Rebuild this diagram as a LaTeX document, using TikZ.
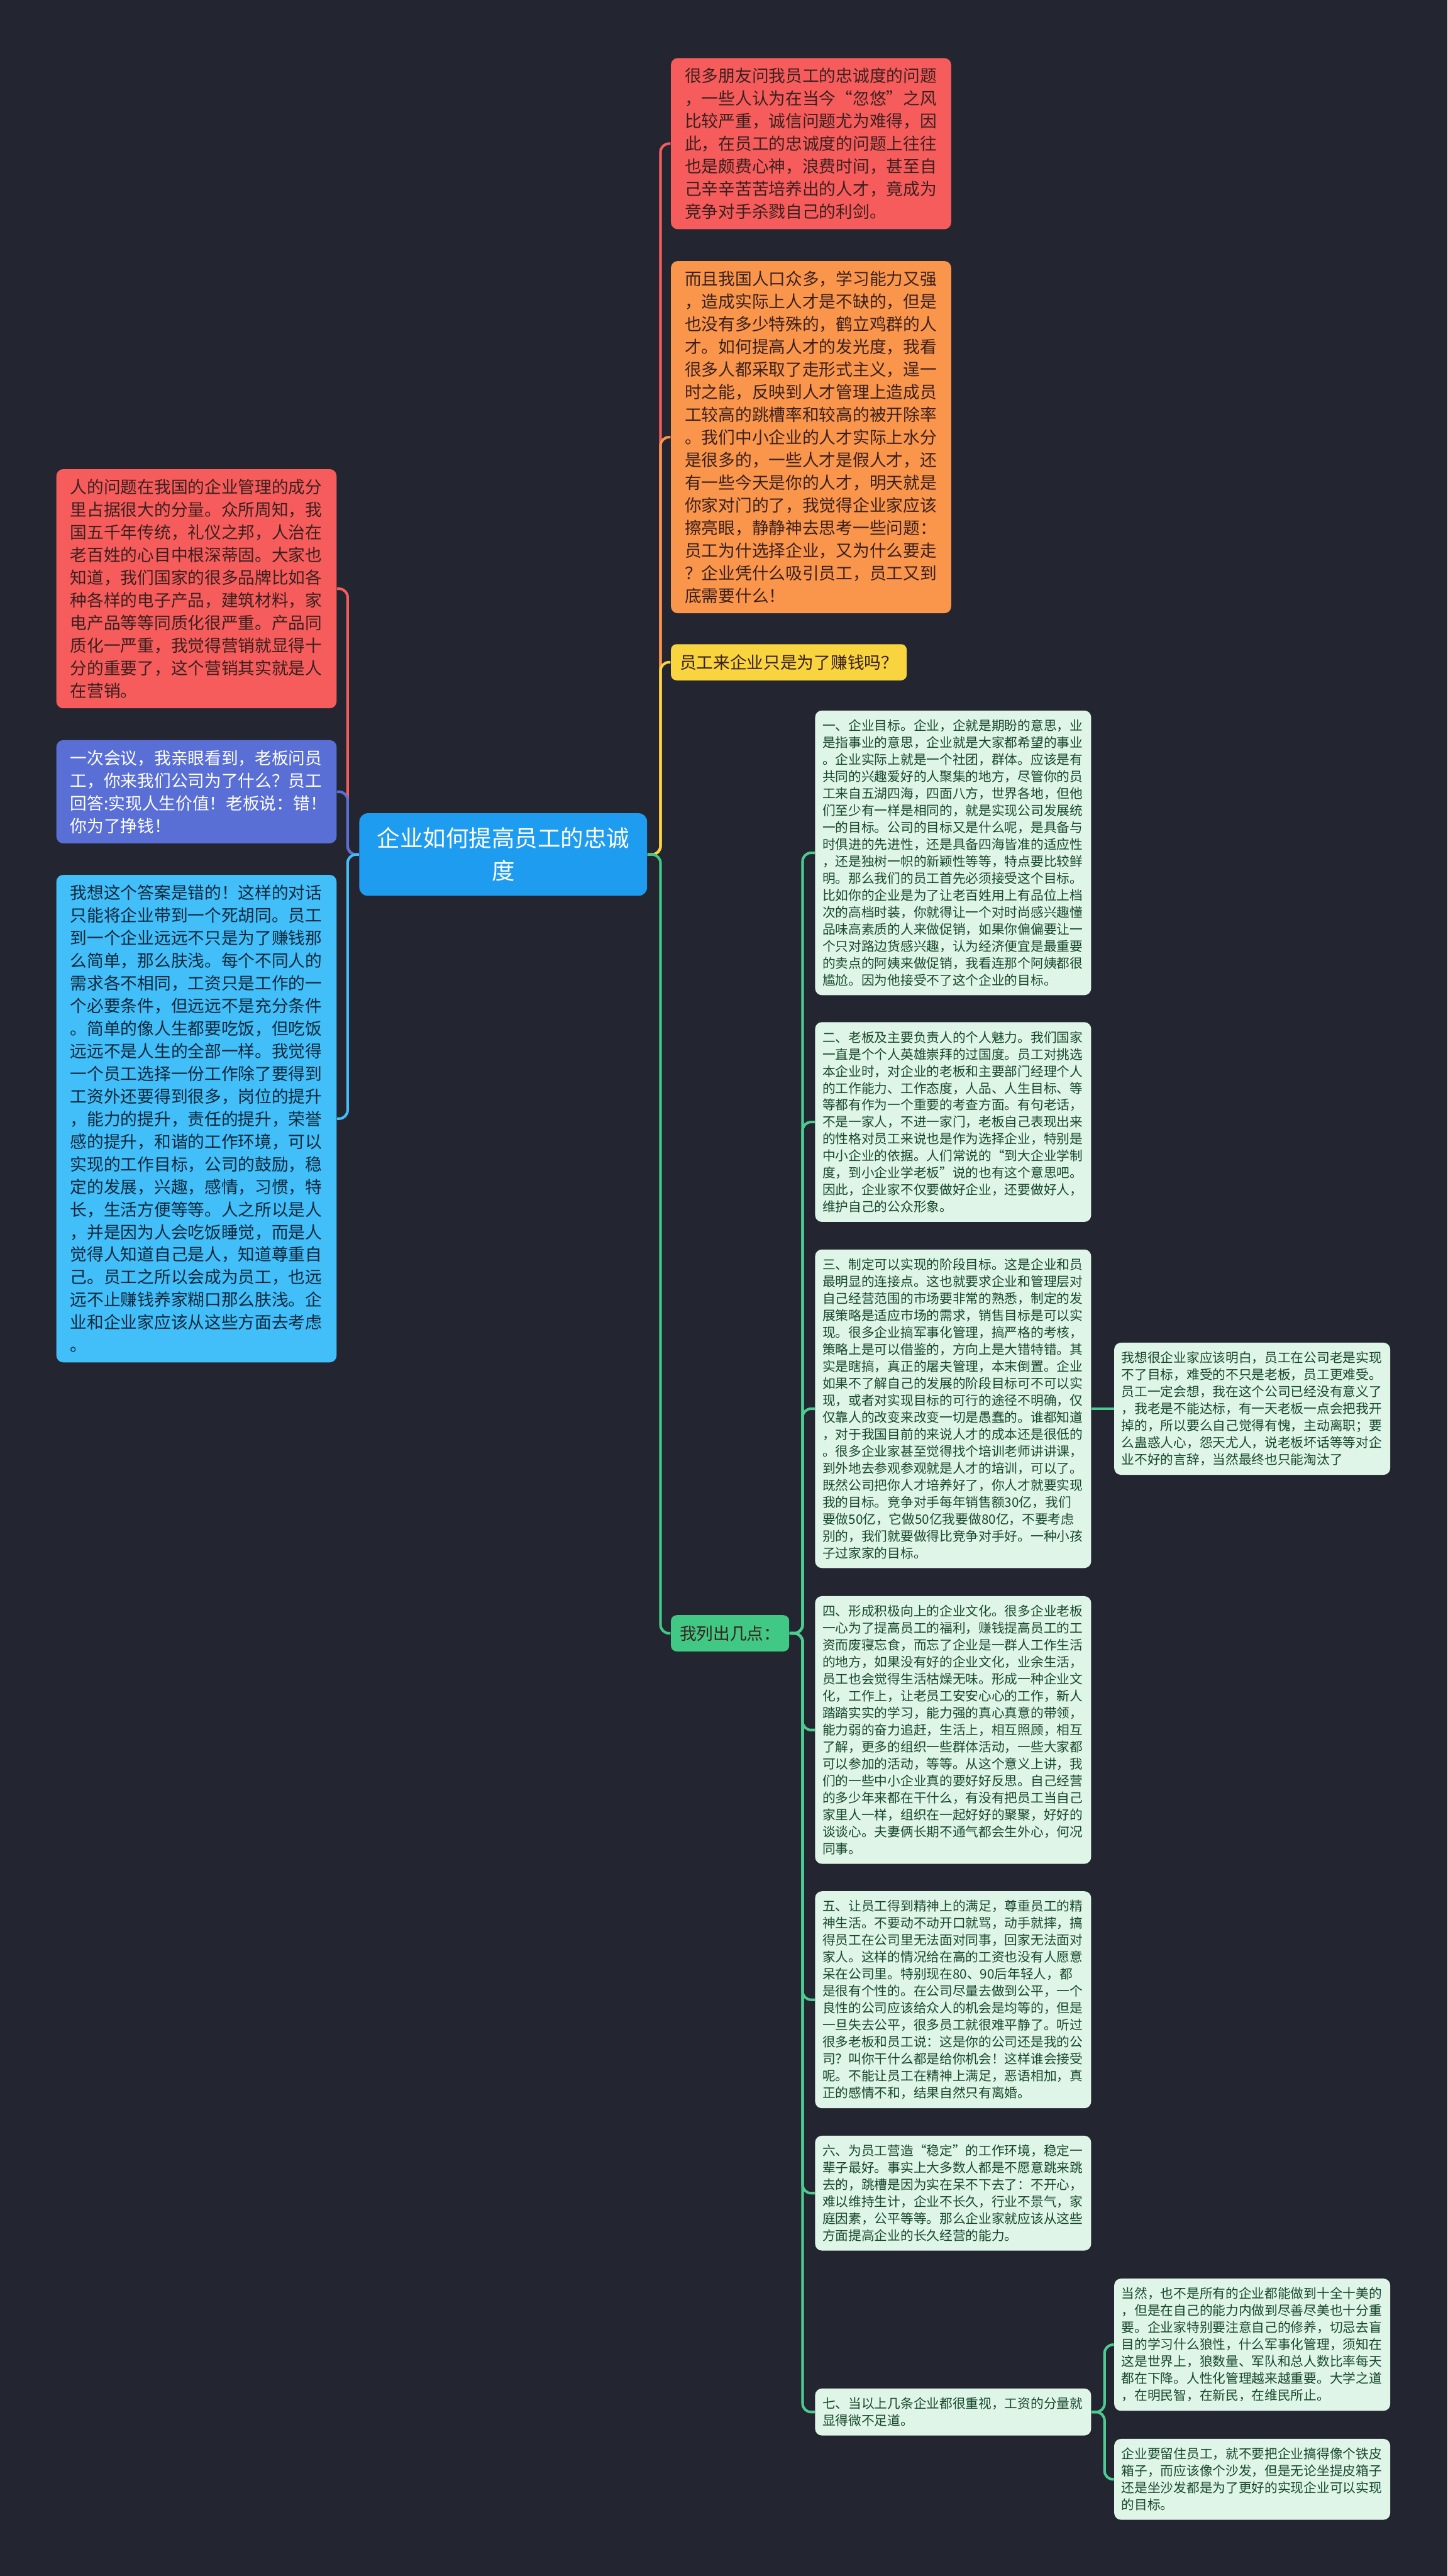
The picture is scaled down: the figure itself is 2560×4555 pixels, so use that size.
\documentclass[tikz,border=0pt]{standalone}
\usepackage{fontspec}
\setmainfont{Noto Sans CJK SC}
\usetikzlibrary{positioning,calc}

\definecolor{bgdark}{RGB}{35,38,49}
\definecolor{rootblue}{RGB}{30,156,240}
\definecolor{redbox}{RGB}{246,92,92}
\definecolor{orangebox}{RGB}{250,150,76}
\definecolor{yellowbox}{RGB}{248,212,62}
\definecolor{purplebox}{RGB}{90,111,214}
\definecolor{skybox}{RGB}{66,190,248}
\definecolor{greennode}{RGB}{64,200,132}
\definecolor{mintbox}{RGB}{222,245,232}
\definecolor{mintline}{RGB}{76,204,144}
\definecolor{minttext}{RGB}{24,72,44}
\definecolor{darktext}{RGB}{58,32,30}

\newcommand{\fbig}{\fontsize{8.45pt}{11.38pt}\selectfont}
\newcommand{\fsmall}{\fontsize{6.55pt}{8.54pt}\selectfont}
\newcommand{\froot}{\fontsize{11.55pt}{16.5pt}\selectfont}

\begin{document}
\begin{tikzpicture} [
        x=0.1mm, y=-0.1mm,
        topic/.style={rounded corners=1.2mm, inner xsep=7pt, inner ysep=5pt, text width=127pt, align=left, font=\fbig, text=darktext, anchor=west},
        tagbox/.style={rounded corners=1mm, inner xsep=4.4pt, minimum height=6.4mm, font=\fbig, text=darktext, anchor=west},
        point/.style={rounded corners=1.2mm, fill=mintbox, text=minttext, inner xsep=3.7pt, inner ysep=4.5pt, text width=131.5pt, align=left, font=\fsmall, anchor=west},
        root/.style={rounded corners=1.5mm, fill=rootblue, text=white, font=\froot, align=center, minimum width=50.9mm, minimum height=14.6mm},
        link/.style={line width=1.3pt, rounded corners=1.5mm}
    ]
    \fill[bgdark] (0,0) rectangle (2560,4555);

    \node[root]                 (root) at (890,1511)  {企业如何提高员工的忠诚\\度};

    % right side
    \node[topic, fill=redbox]    (r1)  at (1186,254)  {很多朋友问我员工的忠诚度的问题\\，一些人认为在当今“忽悠”之风\\比较严重，诚信问题尤为难得，因\\此，在员工的忠诚度的问题上往往\\也是颇费心神，浪费时间，甚至自\\己辛辛苦苦培养出的人才，竟成为\\竞争对手杀戮自己的利剑。};
    \node[topic, fill=orangebox] (o1)  at (1186,773)  {而且我国人口众多，学习能力又强\\，造成实际上人才是不缺的，但是\\也没有多少特殊的，鹤立鸡群的人\\才。如何提高人才的发光度，我看\\很多人都采取了走形式主义，逞一\\时之能，反映到人才管理上造成员\\工较高的跳槽率和较高的被开除率\\。我们中小企业的人才实际上水分\\是很多的，一些人才是假人才，还\\有一些今天是你的人才，明天就是\\你家对门的了，我觉得企业家应该\\擦亮眼，静静神去思考一些问题：\\员工为什选择企业，又为什么要走\\？企业凭什么吸引员工，员工又到\\底需要什么！};
    \node[tagbox, fill=yellowbox] (q1) at (1186,1171) {员工来企业只是为了赚钱吗？};
    \node[tagbox, fill=greennode] (pts) at (1186,2888) {我列出几点：};

    % left side
    \node[topic, fill=redbox, anchor=east]    (l1) at (596,1041) {人的问题在我国的企业管理的成分\\里占据很大的分量。众所周知，我\\国五千年传统，礼仪之邦，人治在\\老百姓的心目中根深蒂固。大家也\\知道，我们国家的很多品牌比如各\\种各样的电子产品，建筑材料，家\\电产品等等同质化很严重。产品同\\质化一严重，我觉得营销就显得十\\分的重要了，这个营销其实就是人\\在营销。};
    \node[topic, fill=purplebox, text=white, anchor=east] (l2) at (596,1400) {一次会议，我亲眼看到，老板问员\\工，你来我们公司为了什么？员工\\回答:实现人生价值！老板说：错！\\你为了挣钱！};
    \node[topic, fill=skybox, text={rgb,255:red,14;green,40;blue,60}, anchor=east] (l3) at (596,1978) {我想这个答案是错的！这样的对话\\只能将企业带到一个死胡同。员工\\到一个企业远远不只是为了赚钱那\\么简单，那么肤浅。每个不同人的\\需求各不相同，工资只是工作的一\\个必要条件，但远远不是充分条件\\。简单的像人生都要吃饭，但吃饭\\远远不是人生的全部一样。我觉得\\一个员工选择一份工作除了要得到\\工资外还要得到很多，岗位的提升\\，能力的提升，责任的提升，荣誉\\感的提升，和谐的工作环境，可以\\实现的工作目标，公司的鼓励，稳\\定的发展，兴趣，感情，习惯，特\\长，生活方便等等。人之所以是人\\，并是因为人会吃饭睡觉，而是人\\觉得人知道自己是人，知道尊重自\\己。员工之所以会成为员工，也远\\远不止赚钱养家糊口那么肤浅。企\\业和企业家应该从这些方面去考虑\\。};

    % the points
    \node[point] (g1) at (1441,1508) {一、企业目标。企业，企就是期盼的意思，业\\是指事业的意思，企业就是大家都希望的事业\\。企业实际上就是一个社团，群体。应该是有\\共同的兴趣爱好的人聚集的地方，尽管你的员\\工来自五湖四海，四面八方，世界各地，但他\\们至少有一样是相同的，就是实现公司发展统\\一的目标。公司的目标又是什么呢，是具备与\\时俱进的先进性，还是具备四海皆准的适应性\\，还是独树一帜的新颖性等等，特点要比较鲜\\明。那么我们的员工首先必须接受这个目标。\\比如你的企业是为了让老百姓用上有品位上档\\次的高档时装，你就得让一个对时尚感兴趣懂\\品味高素质的人来做促销，如果你偏偏要让一\\个只对路边货感兴趣，认为经济便宜是最重要\\的卖点的阿姨来做促销，我看连那个阿姨都很\\尴尬。因为他接受不了这个企业的目标。};
    \node[point] (g2) at (1441,1984) {二、老板及主要负责人的个人魅力。我们国家\\一直是个个人英雄崇拜的过国度。员工对挑选\\本企业时，对企业的老板和主要部门经理个人\\的工作能力、工作态度，人品、人生目标、等\\等都有作为一个重要的考查方面。有句老话，\\不是一家人，不进一家门，老板自己表现出来\\的性格对员工来说也是作为选择企业，特别是\\中小企业的依据。人们常说的“到大企业学制\\度，到小企业学老板”说的也有这个意思吧。\\因此，企业家不仅要做好企业，还要做好人，\\维护自己的公众形象。};
    \node[point] (g3) at (1441,2491) {三、制定可以实现的阶段目标。这是企业和员\\最明显的连接点。这也就要求企业和管理层对\\自己经营范围的市场要非常的熟悉，制定的发\\展策略是适应市场的需求，销售目标是可以实\\现。很多企业搞军事化管理，搞严格的考核，\\策略上是可以借鉴的，方向上是大错特错。其\\实是瞎搞，真正的屠夫管理，本末倒置。企业\\如果不了解自己的发展的阶段目标可不可以实\\现，或者对实现目标的可行的途径不明确，仅\\仅靠人的改变来改变一切是愚蠢的。谁都知道\\，对于我国目前的来说人才的成本还是很低的\\。很多企业家甚至觉得找个培训老师讲讲课，\\到外地去参观参观就是人才的培训，可以了。\\既然公司把你人才培养好了，你人才就要实现\\我的目标。竞争对手每年销售额30亿，我们\\要做50亿，它做50亿我要做80亿，不要考虑\\别的，我们就要做得比竞争对手好。一种小孩\\子过家家的目标。};
    \node[point] (g4) at (1441,3059) {四、形成积极向上的企业文化。很多企业老板\\一心为了提高员工的福利，赚钱提高员工的工\\资而废寝忘食，而忘了企业是一群人工作生活\\的地方，如果没有好的企业文化，业余生活，\\员工也会觉得生活枯燥无味。形成一种企业文\\化，工作上，让老员工安安心心的工作，新人\\踏踏实实的学习，能力强的真心真意的带领，\\能力弱的奋力追赶，生活上，相互照顾，相互\\了解，更多的组织一些群体活动，一些大家都\\可以参加的活动，等等。从这个意义上讲，我\\们的一些中小企业真的要好好反思。自己经营\\的多少年来都在干什么，有没有把员工当自己\\家里人一样，组织在一起好好的聚聚，好好的\\谈谈心。夫妻俩长期不通气都会生外心，何况\\同事。};
    \node[point] (g5) at (1441,3536) {五、让员工得到精神上的满足，尊重员工的精\\神生活。不要动不动开口就骂，动手就摔，搞\\得员工在公司里无法面对同事，回家无法面对\\家人。这样的情况给在高的工资也没有人愿意\\呆在公司里。特别现在80、90后年轻人，都\\是很有个性的。在公司尽量去做到公平，一个\\良性的公司应该给众人的机会是均等的，但是\\一旦失去公平，很多员工就很难平静了。听过\\很多老板和员工说：这是你的公司还是我的公\\司？叫你干什么都是给你机会！这样谁会接受\\呢。不能让员工在精神上满足，恶语相加，真\\正的感情不和，结果自然只有离婚。};
    \node[point] (g6) at (1441,3878) {六、为员工营造“稳定”的工作环境，稳定一\\辈子最好。事实上大多数人都是不愿意跳来跳\\去的，跳槽是因为实在呆不下去了：不开心，\\难以维持生计，企业不长久，行业不景气，家\\庭因素，公平等等。那么企业家就应该从这些\\方面提高企业的长久经营的能力。};
    \node[point] (g7) at (1441,4265) {七、当以上几条企业都很重视，工资的分量就\\显得微不足道。};

    % third level
    \node[point] (e3)  at (1970,2491) {我想很企业家应该明白，员工在公司老是实现\\不了目标，难受的不只是老板，员工更难受。\\员工一定会想，我在这个公司已经没有意义了\\，我老是不能达标，有一天老板一点会把我开\\掉的，所以要么自己觉得有愧，主动离职；要\\么蛊惑人心，怨天尤人，说老板坏话等等对企\\业不好的言辞，当然最终也只能淘汰了};
    \node[point] (e7a) at (1970,4146) {当然，也不是所有的企业都能做到十全十美的\\，但是在自己的能力内做到尽善尽美也十分重\\要。企业家特别要注意自己的修养，切忌去盲\\目的学习什么狼性，什么军事化管理，须知在\\这是世界上，狼数量、军队和总人数比率每天\\都在下降。人性化管理越来越重要。大学之道\\，在明民智，在新民，在维民所止。};
    \node[point] (e7b) at (1970,4384) {企业要留住员工，就不要把企业搞得像个铁皮\\箱子，而应该像个沙发，但是无论坐提皮箱子\\还是坐沙发都是为了更好的实现企业可以实现\\的目标。};

    % links
    \draw[link, redbox]    (root.east) -- ++(23,0) |- (r1.west);
    \draw[link, orangebox] (root.east) -- ++(23,0) |- (o1.west);
    \draw[link, yellowbox] (root.east) -- ++(23,0) |- (q1.west);
    \draw[link, greennode] (root.east) -- ++(23,0) |- (pts.west);

    \draw[link, redbox]    (root.west) -- ++(-20,0) |- (l1.east);
    \draw[link, purplebox] (root.west) -- ++(-20,0) |- (l2.east);
    \draw[link, skybox]    (root.west) -- ++(-20,0) |- (l3.east);

    \foreach \g in {g1,g2,g3,g4,g5,g6,g7}
        \draw[link, mintline] (pts.east) -- ++(23,0) |- (\g.west);

    \draw[link, mintline]  (g3.east) -- (e3.west);
    \draw[link, mintline]  (g7.east) -- ++(23,0) |- (e7a.west);
    \draw[link, mintline]  (g7.east) -- ++(23,0) |- (e7b.west);
\end{tikzpicture}
\end{document}
